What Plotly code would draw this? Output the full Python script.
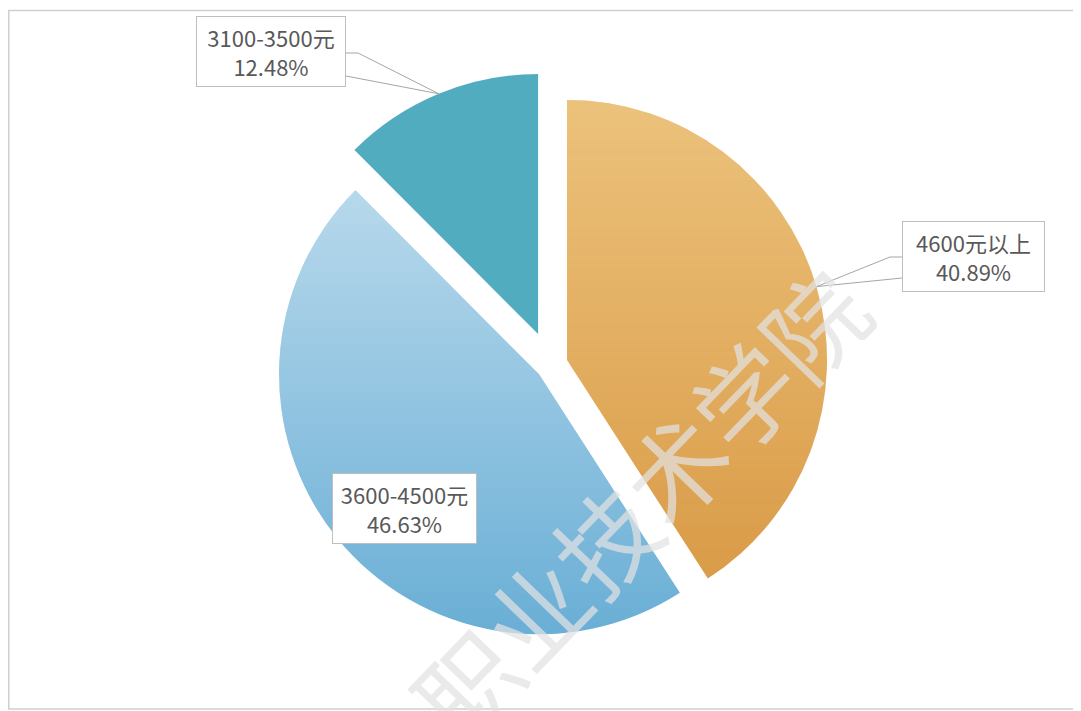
import numpy as np
import plotly.graph_objects as go

# ---------------- data ----------------
categories = ["4600元以上", "3600-4500元", "3100-3500元"]
shares = [40.89, 46.63, 12.48]

# ---------------- style ----------------
pulls = [0.065, 0.058, 0.128]
base_colors = ["#DA9C48", "#6AAFD6", "#52ACBF"]
# vertical gradient tint laid over each slice (r, g, b, alpha at top); None = flat
tints = [(255, 235, 180, 0.48), (255, 255, 255, 0.52), None]
label_font = dict(family="Noto Sans CJK SC, Microsoft YaHei, sans-serif", size=22, color="#595959")

W, H = 1081, 711          # browser window
OFF = 8                   # default page body margin
FW, FH = W - OFF, H - OFF  # figure size so it fits the window

# desired pie placement (page pixels)
PIE_CX, PIE_CY, PIE_R = 550.8, 364.8, 260.0
half = PIE_R * (1 + max(pulls))
dom_x = [(PIE_CX - OFF - half) / FW, (PIE_CX - OFF + half) / FW]
dom_y = [1 - (PIE_CY - OFF + half) / FH, 1 - (PIE_CY - OFF - half) / FH]

# pie geometry in page pixels, computed the same way plotly lays out the pie
bw = FW * (dom_x[1] - dom_x[0])
bh = FH * (dom_y[1] - dom_y[0])
R = min(bw, bh) / (2 + 2 * max(pulls))
cx = OFF + FW * (dom_x[0] + dom_x[1]) / 2
cy = OFF + FH * (1 - (dom_y[0] + dom_y[1]) / 2)

total = sum(shares)
bounds = np.concatenate([[0.0], np.cumsum(shares)]) / total * 2 * np.pi


def to_paper(x, y):
    return (x - OFF) / FW, 1 - (y - OFF) / FH


def wedge(i):
    a0, a1 = bounds[i], bounds[i + 1]
    mid = (a0 + a1) / 2
    ax = cx + pulls[i] * R * np.sin(mid)
    ay = cy - pulls[i] * R * np.cos(mid)
    ts = np.linspace(a0, a1, 180)
    pts = [(ax, ay)] + [(ax + R * np.sin(t), ay - R * np.cos(t)) for t in ts]
    return (ax, ay), mid, pts


def clip(poly, f):
    out = []
    n = len(poly)
    for k in range(n):
        P, Q = poly[k], poly[(k + 1) % n]
        fp, fq = f(P), f(Q)
        if fp >= 0:
            out.append(P)
        if (fp >= 0) != (fq >= 0):
            t = fp / (fp - fq)
            out.append((P[0] + t * (Q[0] - P[0]), P[1] + t * (Q[1] - P[1])))
    return out


fig = go.Figure()
fig.add_trace(go.Pie(
    labels=categories,
    values=shares,
    sort=False,
    direction="clockwise",
    rotation=0,
    pull=pulls,
    marker=dict(colors=base_colors, line=dict(width=0)),
    textinfo="none",
    hoverinfo="label+percent",
    showlegend=False,
    domain=dict(x=dom_x, y=dom_y),
))

shapes = []

# gradient overlay strips clipped to each slice
step = 4
for i, tint in enumerate(tints):
    if tint is None:
        continue
    (ax, ay), mid, poly = wedge(i)
    ys = [p[1] for p in poly]
    ytop, ybot = min(ys), max(ys)
    y0 = int(np.floor(ytop))
    while y0 < ybot:
        y1 = y0 + step
        strip = clip(poly, lambda p, a=y0: p[1] - a)
        strip = clip(strip, lambda p, b=y1: b - p[1])
        if len(strip) >= 3:
            yc = (y0 + y1) / 2
            alpha = tint[3] * max(0.0, (ybot - yc) / (ybot - ytop))
            if alpha > 0.003:
                path = "M " + " L ".join("%.5f,%.5f" % to_paper(x, y) for x, y in strip) + " Z"
                shapes.append(dict(type="path", xref="paper", yref="paper", path=path,
                                   fillcolor="rgba(%d,%d,%d,%.4f)" % (tint[0], tint[1], tint[2], alpha),
                                   line=dict(width=0), layer="above"))
        y0 = y1

# label boxes (page px centre, px width) and callouts
boxes = {0: (973.5, 257.0, 143), 1: (404.5, 508.0, 145), 2: (271.0, 51.5, 150)}
callouts = {0: "left", 2: "right"}

annotations = []
# watermark
wx, wy = to_paper(638, 502)
annotations.append(dict(text="职业技术学院", x=wx, y=wy, xref="paper", yref="paper",
                        xanchor="center", yanchor="middle", showarrow=False, textangle=-46,
                        font=dict(family="Noto Sans CJK SC, sans-serif", size=100,
                                  color="rgba(226,226,226,0.72)")))

for i, side in callouts.items():
    (ax, ay), mid, _ = wedge(i)
    px_, py_ = ax + R * np.sin(mid), ay - R * np.cos(mid)
    bx, by, bwid = boxes[i]
    if side == "left":
        ex = bx - bwid / 2
        notch = ex - 12
        pts = [(ex, by), (notch, by), (px_, py_), (ex, by + 21)]
    else:
        ex = bx + bwid / 2
        notch = ex + 12
        pts = [(ex, by + 1.5), (notch, by + 1.5), (px_, py_), (ex, by + 24.5)]
    path = "M " + " L ".join("%.5f,%.5f" % to_paper(x, y) for x, y in pts)
    shapes.append(dict(type="path", xref="paper", yref="paper", path=path,
                       line=dict(color="#A6A6A6", width=1), layer="above"))

for i, (bx, by, bwid) in boxes.items():
    x, y = to_paper(bx, by)
    annotations.append(dict(text="%s<br>%.2f%%" % (categories[i], shares[i]),
                            x=x, y=y, xref="paper", yref="paper",
                            xanchor="center", yanchor="middle", showarrow=False,
                            width=bwid - 10, borderpad=4, borderwidth=1,
                            bordercolor="#BFBFBF", bgcolor="#FFFFFF", align="center",
                            font=label_font))

# outer chart border (page x 8.8 is the leftmost visible figure column)
bx0, by0 = to_paper(8.8, 709)
bx1, by1 = to_paper(1100, 10.5)
shapes.append(dict(type="rect", xref="paper", yref="paper", x0=bx0, y0=by0, x1=bx1, y1=by1,
                   line=dict(color="#CFCFCF", width=1.5), fillcolor="rgba(0,0,0,0)", layer="above"))

fig.update_layout(
    width=FW, height=FH,
    margin=dict(l=0, r=0, t=0, b=0),
    paper_bgcolor="#FFFFFF",
    plot_bgcolor="#FFFFFF",
    shapes=shapes,
    annotations=annotations,
)

fig.write_html("out.html")
